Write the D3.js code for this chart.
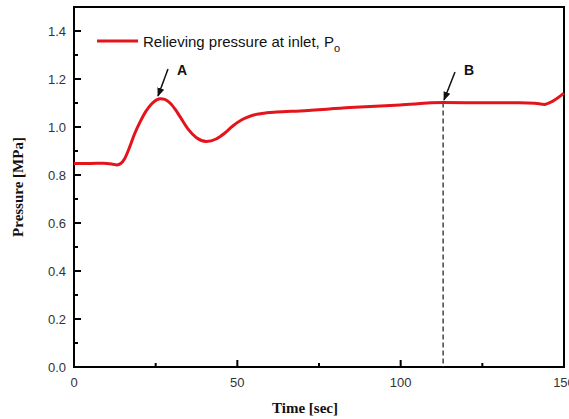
<!DOCTYPE html>
<html><head><meta charset="utf-8">
<script src="https://cdn.jsdelivr.net/npm/d3@7"></script>
<style>body{margin:0;background:#fff}svg{display:block}</style>
</head><body>
<svg id="c" width="569" height="419"></svg>
<script>
const timeSec = [0, 5, 9, 11.5, 13.2, 14.3, 15.5, 17, 18.5, 20.2, 22, 23.8, 25.3, 26.5, 27.8, 29.4, 31, 32.6, 35, 37.5, 40.5, 43.5, 46, 48.5, 51.5, 54.5, 57.5, 62, 69.2, 84.5, 99.8, 113, 127.3, 136.5, 141.1, 144, 146.6, 150];
const pressure = [0.848, 0.848, 0.849, 0.846, 0.842, 0.848, 0.868, 0.915, 0.97, 1.02, 1.065, 1.097, 1.113, 1.118, 1.115, 1.1, 1.073, 1.04, 0.99, 0.955, 0.94, 0.95, 0.973, 1.003, 1.031, 1.048, 1.056, 1.062, 1.067, 1.081, 1.092, 1.102, 1.101, 1.101, 1.099, 1.094, 1.108, 1.141];
const xMajor = [0, 50, 100, 150];
const xMinor = [25, 75, 125];
const yMajor = [0, 0.2, 0.4, 0.6, 0.8, 1.0, 1.2, 1.4];
const yMinor = [0.1, 0.3, 0.5, 0.7, 0.9, 1.1, 1.3];
const markB = 113;
const seriesName = "Relieving pressure at inlet, P";

const svg = d3.select("#c");
const L = 74, R = 564, T = 7, B = 367;
const x = d3.scaleLinear().domain([0, 150]).range([L, R]);
const y = d3.scaleLinear().domain([0, 1.5]).range([B, T]);

// frame
svg.append("rect").attr("x", L).attr("y", T).attr("width", R - L).attr("height", B - T)
  .attr("fill", "none").attr("stroke", "#000").attr("stroke-width", 2);

// ticks (inward)
const g = svg.append("g");
xMajor.forEach(v => g.append("line").attr("x1", x(v)).attr("x2", x(v)).attr("y1", B).attr("y2", B - 7).attr("stroke", "#000").attr("stroke-width", 2));
xMinor.forEach(v => g.append("line").attr("x1", x(v)).attr("x2", x(v)).attr("y1", B).attr("y2", B - 4).attr("stroke", "#000").attr("stroke-width", 2));
yMajor.forEach(v => g.append("line").attr("x1", L).attr("x2", L + 7).attr("y1", y(v)).attr("y2", y(v)).attr("stroke", "#000").attr("stroke-width", 2));
yMinor.forEach(v => g.append("line").attr("x1", L).attr("x2", L + 4).attr("y1", y(v)).attr("y2", y(v)).attr("stroke", "#000").attr("stroke-width", 2));

// tick labels
const fmtY = d3.format(".1f");
yMajor.forEach(v => svg.append("text").attr("x", L - 8).attr("y", y(v)).attr("dy", "0.35em")
  .attr("text-anchor", "end").attr("font-family", "Liberation Sans, Arial, sans-serif").attr("font-size", 13).attr("fill", "#333").text(fmtY(v)));
xMajor.forEach(v => svg.append("text").attr("x", x(v)).attr("y", B + 20)
  .attr("text-anchor", "middle").attr("font-family", "Liberation Sans, Arial, sans-serif").attr("font-size", 13).attr("fill", "#333").text(String(v)));

// axis titles
svg.append("text").attr("x", 305).attr("y", 413).attr("text-anchor", "middle")
  .attr("font-family", "Liberation Serif, Times New Roman, serif").attr("font-weight", "bold").attr("font-size", 15).attr("fill", "#111").text("Time [sec]");
svg.append("text").attr("transform", `translate(23,${(T + B) / 2}) rotate(-90)`).attr("text-anchor", "middle")
  .attr("font-family", "Liberation Serif, Times New Roman, serif").attr("font-weight", "bold").attr("font-size", 15).attr("fill", "#111").text("Pressure [MPa]");

// dashed marker at B
const data = timeSec.map((t, i) => [t, pressure[i]]);
svg.append("line").attr("x1", x(markB)).attr("x2", x(markB)).attr("y1", y(1.102)).attr("y2", B)
  .attr("stroke", "#444").attr("stroke-width", 1.5).attr("stroke-dasharray", "5,3");

// curve
svg.append("path").datum(data)
  .attr("d", d3.line().x(d => x(d[0])).y(d => y(d[1])).curve(d3.curveMonotoneX))
  .attr("fill", "none").attr("stroke", "#e3141b").attr("stroke-width", 3).attr("stroke-linejoin", "round");

// legend
svg.append("line").attr("x1", 97).attr("x2", 138).attr("y1", 41).attr("y2", 41).attr("stroke", "#e3141b").attr("stroke-width", 3);
const lt = svg.append("text").attr("x", 143).attr("y", 47).attr("font-family", "Liberation Sans, Arial, sans-serif").attr("font-size", 15).attr("fill", "#111");
lt.append("tspan").text(seriesName);
lt.append("tspan").attr("font-size", 11).attr("dy", 5).text("o");

// annotations
const defs = svg.append("defs");
defs.append("marker").attr("id", "ah").attr("viewBox", "0 0 10 10").attr("refX", 9).attr("refY", 5)
  .attr("markerWidth", 6).attr("markerHeight", 6).attr("orient", "auto")
  .append("path").attr("d", "M0,1 L10,5 L0,9 z").attr("fill", "#111");
svg.append("line").attr("x1", 168).attr("y1", 69).attr("x2", 158).attr("y2", 96).attr("stroke", "#111").attr("stroke-width", 1.5).attr("marker-end", "url(#ah)");
svg.append("line").attr("x1", 455).attr("y1", 72).attr("x2", 444).attr("y2", 100).attr("stroke", "#111").attr("stroke-width", 1.5).attr("marker-end", "url(#ah)");
svg.append("text").attr("x", 177).attr("y", 75).attr("font-family", "Liberation Sans, Arial, sans-serif").attr("font-weight", "bold").attr("font-size", 14).attr("fill", "#111").text("A");
svg.append("text").attr("x", 464).attr("y", 75).attr("font-family", "Liberation Sans, Arial, sans-serif").attr("font-weight", "bold").attr("font-size", 14).attr("fill", "#111").text("B");
</script>
</body></html>
